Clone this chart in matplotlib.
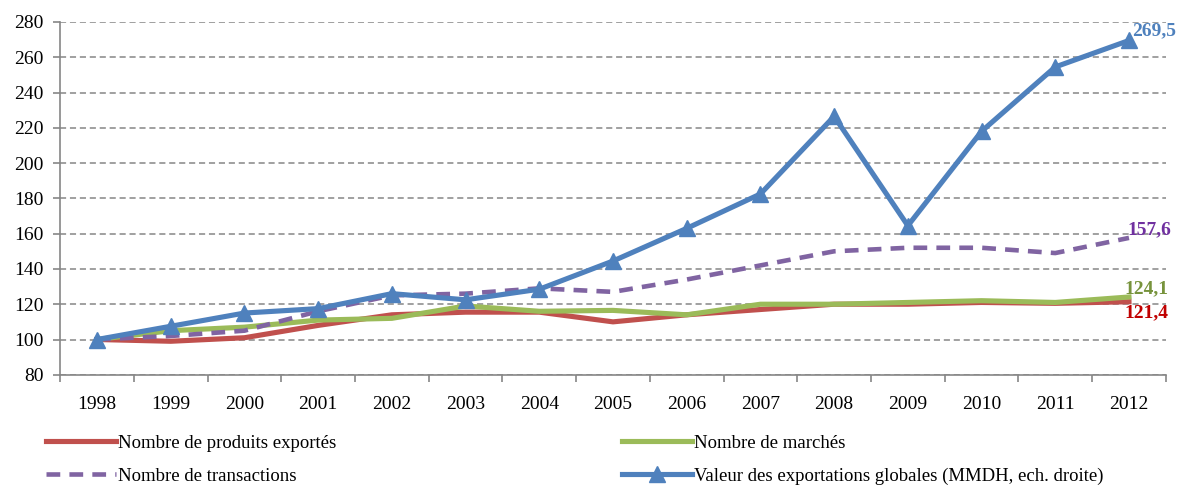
import matplotlib.pyplot as plt

plt.rcParams['font.family'] = ['Liberation Serif', 'DejaVu Serif']

# Données (indices base 100 en 1998)
annees = ['1998', '1999', '2000', '2001', '2002', '2003', '2004', '2005',
          '2006', '2007', '2008', '2009', '2010', '2011', '2012']
produits = [100, 99, 101, 108, 114, 115.5, 115.5, 110, 114, 117, 120, 120, 121, 120.5, 121.4]
marches = [100, 105, 107, 111, 112, 119, 116, 116.5, 114, 120, 120, 121, 122, 121, 124.1]
transactions = [100, 102, 105, 116, 125, 126, 129, 127, 134, 142, 150, 152, 152, 149, 157.6]
valeur = [100, 107.5, 115, 117.5, 126, 122.5, 128.5, 144.5, 163, 182.5, 226.5, 164.5, 218, 254.5, 269.5]

fig = plt.figure(figsize=(11.8, 4.88), dpi=100)
ax = fig.add_axes([0.051, 0.232, 0.937, 0.723])

x = list(range(len(annees)))
l1, = ax.plot(x, produits, color='#C0504D', lw=3.7, label='Nombre de produits exportés')
l2, = ax.plot(x, marches, color='#9BBB59', lw=3.7, label='Nombre de marchés')
l3, = ax.plot(x, transactions, color='#8064A2', lw=3.3, dashes=(3, 2),
              label='Nombre de transactions')
l4, = ax.plot(x, valeur, color='#4F81BD', lw=3.7, marker='^', markersize=11,
              label='Valeur des exportations globales (MMDH, ech. droite)')

# Étiquettes de fin de série
dern = len(annees) - 1
ax.annotate('269,5', (dern, valeur[-1]), xytext=(2, 1), textcoords='offset points',
            color='#4F81BD', fontsize=14, fontweight='bold', va='bottom', ha='left')
ax.annotate('157,6', (dern, transactions[-1]), xytext=(-1, 0), textcoords='offset points',
            color='#7030A0', fontsize=14, fontweight='bold', va='bottom', ha='left')
ax.annotate('124,1', (dern, marches[-1]), xytext=(-3, 0), textcoords='offset points',
            color='#77933C', fontsize=14, fontweight='bold', va='bottom', ha='left')
ax.annotate('121,4', (dern, produits[-1]), xytext=(-3, -2), textcoords='offset points',
            color='#C00000', fontsize=14, fontweight='bold', va='top', ha='left')

# Axes
ax.set_ylim(80, 280)
ax.set_yticks(range(80, 281, 20))
ax.set_xlim(-0.5, len(annees) - 0.5)
ax.set_xticks(x)
ax.set_xticklabels(annees)
ax.set_xticks([i - 0.5 for i in range(len(annees) + 1)], minor=True)
ax.tick_params(axis='x', which='major', length=0, pad=15, labelsize=14)
ax.tick_params(axis='x', which='minor', length=5, color='#868686', width=1.2)
ax.tick_params(axis='y', length=5, color='#868686', width=1.2, labelsize=14, pad=7)
ax.grid(axis='y', linestyle='--', color='#868686', lw=1.1, dashes=(4, 2.5))
ax.set_axisbelow(True)
for s in ['top', 'right']:
    ax.spines[s].set_visible(False)
for s in ['left', 'bottom']:
    ax.spines[s].set_color('#868686')
    ax.spines[s].set_linewidth(1.2)

# Légende en deux colonnes
opts = dict(loc='upper left', frameon=False, fontsize=13.5, handlelength=3.7,
            handletextpad=0.1, labelspacing=0.85, borderaxespad=0)
fig.legend(handles=[l1, l3], bbox_to_anchor=(0.033, 0.125), **opts)
fig.legend(handles=[l2, l4], bbox_to_anchor=(0.521, 0.125), **opts)

fig.savefig('out.png', dpi=100)
